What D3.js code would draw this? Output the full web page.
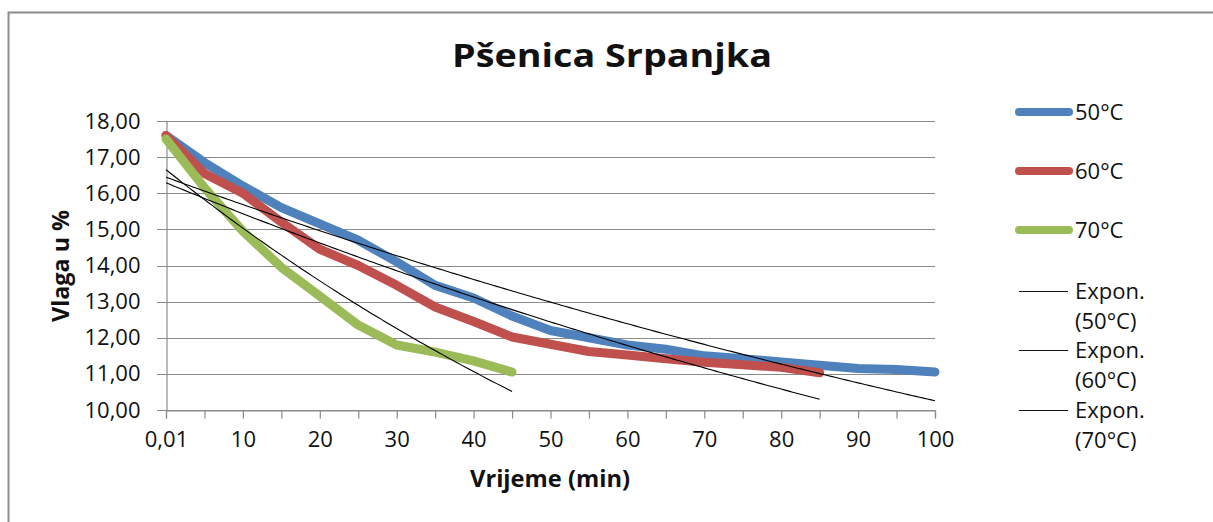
<!DOCTYPE html>
<html>
<head>
<meta charset="utf-8">
<script src="https://cdn.jsdelivr.net/npm/d3@7/dist/d3.min.js"></script>
<style>
  body { margin: 0; background: #fff; }
  svg { display: block; }
  text { font-family: "Open Sans", "DejaVu Sans", sans-serif; fill: #111; }
</style>
</head>
<body>
<div id="chart"></div>
<script>
'use strict';

// ─── Data ──────────────────────────────────────────────────────────────────
const categories = [0.01, 5, 10, 15, 20, 25, 30, 35, 40, 45, 50, 55, 60, 65, 70, 75, 80, 85, 90, 95, 100];
const xTickLabels = ['0,01', '', '10', '', '20', '', '30', '', '40', '', '50', '', '60', '', '70', '', '80', '', '90', '', '100'];
const yTicks = [10, 11, 12, 13, 14, 15, 16, 17, 18];

const vlaga50 = [17.60, 16.85, 16.20, 15.60, 15.15, 14.70, 14.10, 13.45, 13.10, 12.60, 12.20,
                 12.00, 11.80, 11.68, 11.50, 11.42, 11.33, 11.24, 11.15, 11.12, 11.05];
const vlaga60 = [17.60, 16.55, 16.00, 15.20, 14.45, 14.00, 13.45, 12.85, 12.45, 12.02, 11.82,
                 11.62, 11.52, 11.42, 11.32, 11.25, 11.18, 11.03];
const vlaga70 = [17.50, 16.15, 14.95, 13.95, 13.15, 12.35, 11.80, 11.60, 11.36, 11.05];

const seriesNames = ['50°C', '60°C', '70°C'];
const seriesColors = ['#4F81BD', '#C0504D', '#9BBB59'];
const trendNames = [['Expon.', '(50°C)'], ['Expon.', '(60°C)'], ['Expon.', '(70°C)']];

// ─── Layout ────────────────────────────────────────────────────────────────
const W = 1213, H = 522;
const plot = { left: 166, right: 935, top: 121, bottom: 410 };

const svg = d3.select('#chart').append('svg')
    .attr('width', W).attr('height', H);

// chart area border (runs off the right/bottom of the picture)
svg.append('rect')
    .attr('x', 8.5).attr('y', 12.5)
    .attr('width', 1400).attr('height', 700)
    .attr('fill', '#fff')
    .attr('stroke', '#8c8c8c')
    .attr('stroke-width', 2);

const x = d3.scalePoint()
    .domain(d3.range(categories.length))
    .range([plot.left, plot.right]);

// index -> pixel for trend curves (same mapping as x)
const xi = d3.scaleLinear()
    .domain([0, categories.length - 1])
    .range([plot.left, plot.right]);

const y = d3.scaleLinear()
    .domain([10, 18])
    .range([plot.bottom, plot.top]);

// ─── Grid + axes ───────────────────────────────────────────────────────────
const gridColor = '#8a8a8a';

svg.append('g')
    .selectAll('line')
    .data(yTicks)
    .enter().append('line')
    .attr('x1', plot.left - 9).attr('x2', plot.right)
    .attr('y1', function (d) { return Math.round(y(d)) + 0.5; })
    .attr('y2', function (d) { return Math.round(y(d)) + 0.5; })
    .attr('stroke', gridColor)
    .attr('stroke-width', 1.2);

const yAxis = svg.append('g')
    .attr('transform', 'translate(' + (plot.left + 0.5) + ',0)')
    .call(d3.axisLeft(y)
        .tickValues(yTicks)
        .tickSize(0)
        .tickPadding(26)
        .tickFormat(function (d) { return d3.format('.2f')(d).replace('.', ','); }));
yAxis.select('.domain').attr('stroke', gridColor).attr('stroke-width', 1.2);
yAxis.selectAll('text')
    .style('font-size', '22px')
    .style('font-family', '"Open Sans", sans-serif')
    .attr('fill', '#111');

const xAxis = svg.append('g')
    .attr('transform', 'translate(0,' + (plot.bottom + 0.5) + ')')
    .call(d3.axisBottom(x)
        .tickSize(8)
        .tickPadding(13)
        .tickFormat(function (i) { return xTickLabels[i]; }));
xAxis.select('.domain').attr('stroke', gridColor).attr('stroke-width', 1.2);
xAxis.selectAll('.tick line').attr('stroke', gridColor).attr('stroke-width', 1.2);
xAxis.selectAll('text')
    .style('font-size', '22px')
    .style('font-family', '"Open Sans", sans-serif')
    .attr('fill', '#111');

// ─── Series ────────────────────────────────────────────────────────────────
const allSeries = [vlaga50, vlaga60, vlaga70];

const line = d3.line()
    .x(function (d, i) { return x(i); })
    .y(function (d) { return y(d); });

svg.append('g')
    .selectAll('path')
    .data(allSeries)
    .enter().append('path')
    .attr('d', line)
    .attr('fill', 'none')
    .attr('stroke', function (d, i) { return seriesColors[i]; })
    .attr('stroke-width', 9)
    .attr('stroke-linejoin', 'round')
    .attr('stroke-linecap', 'round');

// exponential trendlines, fitted like Excel does (ln y against point index 1..n)
function expFit(vals) {
    const xs = vals.map(function (v, i) { return i + 1; });
    const ls = vals.map(function (v) { return Math.log(v); });
    const mx = d3.mean(xs), ml = d3.mean(ls);
    let sxy = 0, sxx = 0;
    xs.forEach(function (xv, i) {
        sxy += (xv - mx) * (ls[i] - ml);
        sxx += (xv - mx) * (xv - mx);
    });
    const b = sxy / sxx;
    const a = Math.exp(ml - b * mx);
    return function (t) { return a * Math.exp(b * t); };
}

const trendLine = d3.line()
    .x(function (d) { return xi(d[0]); })
    .y(function (d) { return y(d[1]); });

svg.append('g')
    .selectAll('path')
    .data(allSeries)
    .enter().append('path')
    .attr('d', function (vals) {
        const f = expFit(vals);
        const pts = d3.range(0, vals.length - 1 + 1e-9, 0.1).map(function (t) {
            return [t, f(t + 1)];
        });
        return trendLine(pts);
    })
    .attr('fill', 'none')
    .attr('stroke', '#000')
    .attr('stroke-width', 1.1);

// ─── Titles ────────────────────────────────────────────────────────────────
svg.append('text')
    .attr('x', 612).attr('y', 67)
    .attr('text-anchor', 'middle')
    .style('font-size', '32px')
    .style('font-weight', 'bold')
    .attr('textLength', 320)
    .attr('lengthAdjust', 'spacingAndGlyphs')
    .text('Pšenica Srpanjka');

svg.append('text')
    .attr('x', 550).attr('y', 487)
    .attr('text-anchor', 'middle')
    .style('font-size', '23px')
    .style('font-weight', 'bold')
    .attr('textLength', 160)
    .attr('lengthAdjust', 'spacingAndGlyphs')
    .text('Vrijeme (min)');

svg.append('text')
    .attr('transform', 'translate(69,266) rotate(-90)')
    .attr('text-anchor', 'middle')
    .style('font-size', '23px')
    .style('font-weight', 'bold')
    .attr('textLength', 112)
    .attr('lengthAdjust', 'spacingAndGlyphs')
    .text('Vlaga u %');

// ─── Legend ────────────────────────────────────────────────────────────────
const legendY = [112, 171, 230];
const leg = svg.append('g');

seriesNames.forEach(function (name, i) {
    leg.append('line')
        .attr('x1', 1019).attr('x2', 1069)
        .attr('y1', legendY[i]).attr('y2', legendY[i])
        .attr('stroke', seriesColors[i])
        .attr('stroke-width', 8)
        .attr('stroke-linecap', 'round');
    leg.append('text')
        .attr('x', 1075).attr('y', legendY[i])
        .attr('dy', '0.35em')
        .style('font-size', '22px')
        .text(name);
});

const trendLegendY = [291, 350, 410];
trendNames.forEach(function (lines, i) {
    leg.append('line')
        .attr('x1', 1019).attr('x2', 1068)
        .attr('y1', trendLegendY[i] + 0.5).attr('y2', trendLegendY[i] + 0.5)
        .attr('stroke', '#111')
        .attr('stroke-width', 1.2);
    lines.forEach(function (t, k) {
        leg.append('text')
            .attr('x', 1075).attr('y', trendLegendY[i] + k * 30)
            .attr('dy', '0.35em')
            .style('font-size', '22px')
            .text(t);
    });
});
</script>
</body>
</html>
